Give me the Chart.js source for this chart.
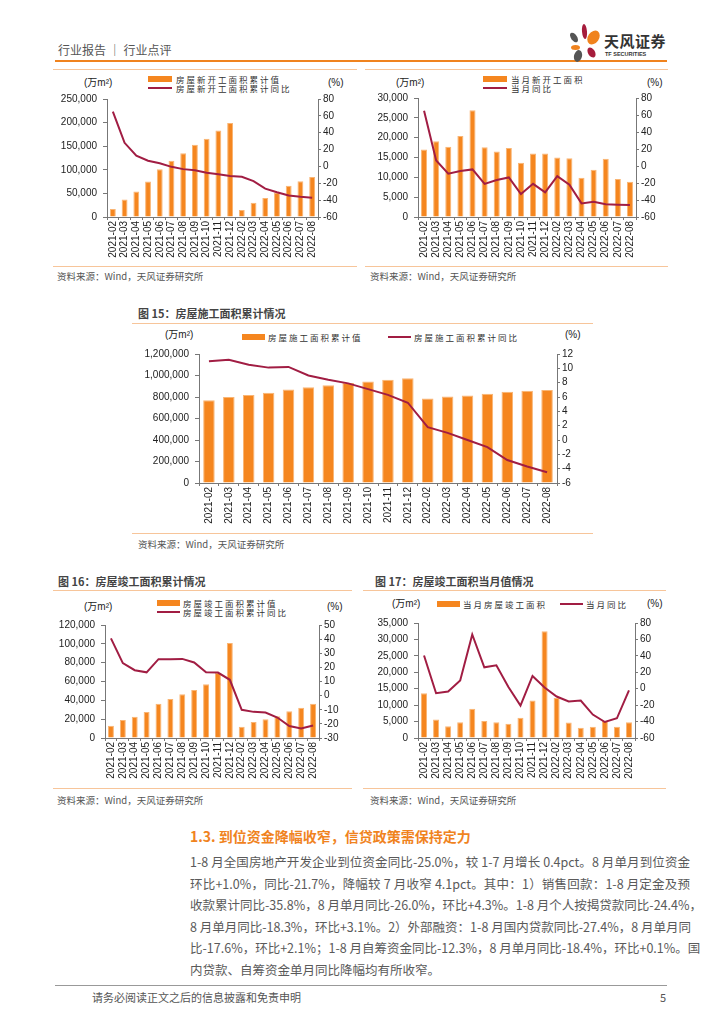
<!DOCTYPE html>
<html>
<head>
<meta charset="utf-8">
<script src="https://cdn.jsdelivr.net/npm/chart.js@4.4.0/dist/chart.umd.min.js"></script>
<style>
  body { margin: 0; background: #fff; width: 724px; height: 1024px; position: relative; overflow: hidden;
         font-family: "Noto Sans CJK SC", "Noto Sans", sans-serif; color: #333; }
  .a { position: absolute; white-space: nowrap; }
  .rule { position: absolute; height: 1px; background: #f7c59a; }
  .src { position: absolute; font-size: 9.5px; color: #555; line-height: 12px; }
  .ttl { position: absolute; font-size: 11px; font-weight: bold; color: #444; line-height: 14px; }
  .unit { position: absolute; font-size: 10px; color: #222; line-height: 12px; font-family: "Liberation Sans", "Noto Sans CJK SC"; }
  .lg { position: absolute; font-size: 8.5px; letter-spacing: 2px; color: #333; line-height: 10px; }
  .box { position: absolute; height: 6px; width: 24px; background: #f5861f; }
  .ln { position: absolute; height: 2px; width: 24px; background: #a11d43; }
  canvas { position: absolute; }
  .para { position: absolute; left: 190px; width: 500px; font-size: 12.5px; color: #5a5a5a; line-height: 21.5px; }
  .para div { text-align: justify; text-align-last: justify; white-space: nowrap; }
  .para div.last { text-align-last: left; }
</style>
</head>
<body>

<!-- header -->
<div class="a" style="left:58px;top:42px;font-size:12px;line-height:16px;color:#555;">行业报告 ｜ 行业点评</div>
<div class="a" style="left:55px;top:60px;width:612px;height:2px;background:#f0831e;"></div>
<div class="a" style="left:582px;top:24px;width:5px;height:15px;border-radius:50%;background:#a61c3c;transform:rotate(-5deg);"></div>
<div class="a" style="left:588px;top:30px;width:11px;height:15px;border-radius:50%;background:#f0831e;transform:rotate(35deg);"></div>
<div class="a" style="left:571px;top:32px;width:6px;height:11px;border-radius:50%;background:#555;transform:rotate(-35deg);"></div>
<div class="a" style="left:571px;top:45px;width:9px;height:5px;border-radius:50%;background:#f0831e;"></div>
<div class="a" style="left:574px;top:50px;width:8px;height:12px;border-radius:50%;background:#555;transform:rotate(15deg);"></div>
<div class="a" style="left:588px;top:47px;width:7px;height:11px;border-radius:50%;background:#a61c3c;transform:rotate(-30deg);"></div>
<div class="a" style="left:604px;top:32px;font-size:15px;font-weight:bold;line-height:18px;color:#333;letter-spacing:0.5px;">天风证券</div>
<div class="a" style="left:605px;top:51px;font-size:5.5px;line-height:7px;color:#333;font-family:'Liberation Sans';font-weight:bold;">TF SECURITIES</div>

<!-- chart 1 -->
<div class="rule" style="left:53px;top:69px;width:304px;"></div>
<div class="box" style="left:148px;top:76px;"></div><div class="lg" id="lg1a" style="left:176px;top:74px;"></div>
<div class="ln" style="left:148px;top:87px;"></div><div class="lg" id="lg1b" style="left:176px;top:83px;"></div>
<div class="unit" style="left:84px;top:77px;">(万m²)</div>
<div class="unit" style="left:328px;top:77px;">(%)</div>
<canvas id="c1" width="300" height="178" style="left:55px;top:87px;"></canvas>
<div class="rule" style="left:53px;top:266px;width:304px;"></div>
<div class="src" style="left:57px;top:270px;">资料来源：Wind，天风证券研究所</div>

<!-- chart 2 -->
<div class="rule" style="left:365px;top:69px;width:303px;"></div>
<div class="box" style="left:483px;top:76px;"></div><div class="lg" id="lg2a" style="left:511px;top:74px;"></div>
<div class="ln" style="left:483px;top:87px;"></div><div class="lg" id="lg2b" style="left:511px;top:83px;"></div>
<div class="unit" style="left:396px;top:77px;">(万m²)</div>
<div class="unit" style="left:647px;top:77px;">(%)</div>
<canvas id="c2" width="303" height="179" style="left:365px;top:86px;"></canvas>
<div class="rule" style="left:365px;top:266px;width:303px;"></div>
<div class="src" style="left:370px;top:270px;">资料来源：Wind，天风证券研究所</div>

<!-- chart 15 -->
<div class="ttl" style="left:138px;top:306px;">图 15：房屋施工面积累计情况</div>
<div class="rule" style="left:132px;top:323px;width:461px;"></div>
<div class="box" style="left:242px;top:334px;width:23px;"></div><div class="lg" id="lg3a" style="left:268px;top:332px;"></div>
<div class="ln" style="left:388px;top:336px;width:23px;"></div><div class="lg" id="lg3b" style="left:414px;top:332px;"></div>
<div class="unit" style="left:165px;top:329px;">(万m²)</div>
<div class="unit" style="left:565px;top:329px;">(%)</div>
<canvas id="c3" width="461" height="189" style="left:132px;top:342px;"></canvas>
<div class="rule" style="left:132px;top:533px;width:461px;"></div>
<div class="src" style="left:138px;top:538px;">资料来源：Wind，天风证券研究所</div>

<!-- chart 16 -->
<div class="ttl" style="left:58px;top:574px;">图 16：房屋竣工面积累计情况</div>
<div class="rule" style="left:53px;top:590px;width:299px;"></div>
<div class="box" style="left:157px;top:600px;width:23px;"></div><div class="lg" id="lg4a" style="left:183px;top:598px;"></div>
<div class="ln" style="left:157px;top:611px;width:23px;"></div><div class="lg" id="lg4b" style="left:183px;top:607px;"></div>
<div class="unit" style="left:84px;top:601px;">(万m²)</div>
<div class="unit" style="left:327px;top:601px;">(%)</div>
<canvas id="c4" width="299" height="173" style="left:53px;top:613px;"></canvas>
<div class="rule" style="left:53px;top:788px;width:299px;"></div>
<div class="src" style="left:57px;top:794px;">资料来源：Wind，天风证券研究所</div>

<!-- chart 17 -->
<div class="ttl" style="left:375px;top:574px;">图 17：房屋竣工面积当月值情况</div>
<div class="rule" style="left:363px;top:590px;width:303px;"></div>
<div class="box" style="left:437px;top:601px;width:23px;"></div><div class="lg" id="lg5a" style="left:463px;top:599px;"></div>
<div class="ln" style="left:560px;top:603px;width:23px;"></div><div class="lg" id="lg5b" style="left:586px;top:599px;"></div>
<div class="unit" style="left:392px;top:598px;">(万m²)</div>
<div class="unit" style="left:647px;top:598px;">(%)</div>
<canvas id="c5" width="305" height="175" style="left:363px;top:611px;"></canvas>
<div class="rule" style="left:363px;top:788px;width:303px;"></div>
<div class="src" style="left:370px;top:794px;">资料来源：Wind，天风证券研究所</div>

<!-- text -->
<div class="a" style="left:190px;top:827px;font-size:14px;font-weight:bold;color:#f0831e;line-height:18px;">1.3. 到位资金降幅收窄，信贷政策需保持定力</div>
<div class="para" style="top:851px;">
  <div>1-8 月全国房地产开发企业到位资金同比-25.0%，较 1-7 月增长 0.4pct。8 月单月到位资金</div>
  <div>环比+1.0%，同比-21.7%，降幅较 7 月收窄 4.1pct。其中：1）销售回款：1-8 月定金及预</div>
  <div>收款累计同比-35.8%，8 月单月同比-26.0%，环比+4.3%。1-8 月个人按揭贷款同比-24.4%，</div>
  <div>8 月单月同比-18.3%，环比+3.1%。2）外部融资：1-8 月国内贷款同比-27.4%，8 月单月同</div>
  <div>比-17.6%，环比+2.1%；1-8 月自筹资金同比-12.3%，8 月单月同比-18.4%，环比+0.1%。国</div>
  <div class="last">内贷款、自筹资金单月同比降幅均有所收窄。</div>
</div>

<!-- footer -->
<div class="a" style="left:55px;top:985px;width:612px;height:1px;background:#999;"></div>
<div class="a" style="left:92px;top:990px;font-size:11px;line-height:14px;color:#555;">请务必阅读正文之后的信息披露和免责申明</div>
<div class="a" style="left:660px;top:990px;font-size:11px;line-height:14px;color:#555;">5</div>

<script>
const months = ['2021-02', '2021-03', '2021-04', '2021-05', '2021-06', '2021-07', '2021-08', '2021-09', '2021-10',
  '2021-11', '2021-12', '2022-02', '2022-03', '2022-04', '2022-05', '2022-06', '2022-07', '2022-08'];

// 房屋新开工面积累计
const newStartCum = [17000, 37000, 54000, 75000, 101000, 119000, 135000, 153000, 166000, 183000, 199000,
  15000, 30000, 40000, 52000, 66000, 76000, 85000];
const newStartCumYoy = [64.9, 28.0, 12.8, 6.8, 3.8, -0.5, -3.2, -4.5, -7.5, -9.3, -11.4,
  -12.2, -17.5, -26.3, -30.6, -34.4, -36.1, -37.2];

// 当月新开工面积
const newStartMonth = [17000, 19100, 17700, 20400, 26900, 17600, 16500, 17400, 13700, 16000, 16000,
  15000, 14800, 9900, 11900, 14700, 9600, 8900];
const newStartMonthYoy = [65.0, 6.5, -9.0, -6.0, -4.0, -21.0, -16.5, -13.5, -33.0, -21.0, -31.0,
  -12.0, -22.0, -44.0, -42.0, -45.0, -45.5, -46.0];

// 房屋施工面积累计
const constructCum = [770000, 800000, 818000, 840000, 870000, 890000, 910000, 930000, 945000, 960000, 975000,
  785000, 805000, 815000, 830000, 848000, 857000, 865000];
const constructCumYoy = [11.0, 11.2, 10.5, 10.1, 10.2, 9.0, 8.4, 7.9, 7.1, 6.3, 5.2,
  1.8, 1.0, 0.0, -1.0, -2.8, -3.7, -4.5];

// 房屋竣工面积累计
const completeCum = [13000, 19000, 22500, 27500, 36500, 41500, 46500, 51000, 57000, 69000, 101000,
  12000, 17000, 20000, 23000, 28500, 32000, 36500];
const completeCumYoy = [40.5, 23.0, 18.0, 16.5, 25.8, 25.8, 26.0, 23.5, 16.5, 16.3, 11.2,
  -10.0, -11.5, -12.0, -15.5, -21.5, -23.3, -21.1];

// 当月房屋竣工面积
const completeMonth = [13600, 5600, 3600, 4800, 8900, 5200, 4800, 4300, 6200, 11400, 32500,
  12200, 4700, 3100, 3400, 5200, 3400, 4800];
const completeMonthYoy = [40.5, -5.5, -3.5, 10.0, 66.0, 26.0, 28.5, 2.0, -20.5, 15.5, 1.5,
  -9.5, -15.5, -14.5, -31.5, -40.5, -36.0, -2.0];

const orange = '#f5861f';
const crimson = '#a11d43';
const axisColor = '#777';
const tickFont = { family: 'Liberation Sans', size: 10 };

function makeChart(id, legendIds, barLabel, barData, lineLabel, lineData, left, right, leftW, rightW, barPct) {
  document.getElementById(legendIds[0]).textContent = barLabel;
  document.getElementById(legendIds[1]).textContent = lineLabel;
  return new Chart(document.getElementById(id), {
    type: 'bar',
    data: {
      labels: months,
      datasets: [{
        type: 'line',
        label: lineLabel,
        data: lineData,
        yAxisID: 'y1',
        borderColor: crimson,
        borderWidth: 2,
        pointRadius: 0,
        tension: 0,
        order: 0
      }, {
        type: 'bar',
        label: barLabel,
        data: barData,
        yAxisID: 'y',
        backgroundColor: orange,
        borderColor: '#f9b574',
        borderWidth: 1,
        barPercentage: barPct,
        categoryPercentage: 1,
        order: 1
      }]
    },
    options: {
      responsive: false,
      animation: false,
      layout: { padding: { top: 10, left: 0, right: 0, bottom: 0 } },
      plugins: { legend: { display: false }, tooltip: { enabled: false } },
      scales: {
        x: {
          grid: { drawOnChartArea: false, tickLength: 3, color: axisColor },
          border: { color: axisColor },
          ticks: { minRotation: 90, maxRotation: 90, autoSkip: false, padding: 1, font: tickFont, color: '#222' },
          afterFit(s) { s.height = 48; }
        },
        y: {
          position: 'left',
          min: left[0], max: left[1],
          grid: { drawOnChartArea: false, tickLength: 4, color: axisColor },
          border: { color: axisColor },
          ticks: { stepSize: left[2], autoSkip: false, padding: 6, font: tickFont, color: '#222',
            callback: v => v.toLocaleString('en-US') },
          afterFit(s) { s.width = leftW; }
        },
        y1: {
          position: 'right',
          min: right[0], max: right[1],
          grid: { drawOnChartArea: false, tickLength: 3, color: axisColor },
          border: { color: axisColor },
          ticks: { stepSize: right[2], autoSkip: false, padding: 2, font: tickFont, color: '#222' },
          afterFit(s) { s.width = rightW; }
        }
      }
    }
  });
}

makeChart('c1', ['lg1a', 'lg1b'], '房屋新开工面积累计值', newStartCum, '房屋新开工面积累计同比', newStartCumYoy,
  [0, 250000, 50000], [-60, 80, 20], 52, 37, 0.5);
makeChart('c2', ['lg2a', 'lg2b'], '当月新开工面积', newStartMonth, '当月同比', newStartMonthYoy,
  [0, 30000, 5000], [-60, 80, 20], 53, 32, 0.5);
makeChart('c3', ['lg3a', 'lg3b'], '房屋施工面积累计值', constructCum, '房屋施工面积累计同比', constructCumYoy,
  [0, 1200000, 200000], [-6, 12, 2], 67, 36, 0.58);
makeChart('c4', ['lg4a', 'lg4b'], '房屋竣工面积累计值', completeCum, '房屋竣工面积累计同比', completeCumYoy,
  [0, 120000, 20000], [-30, 50, 10], 52, 33, 0.5);
makeChart('c5', ['lg5a', 'lg5b'], '当月房屋竣工面积', completeMonth, '当月同比', completeMonthYoy,
  [0, 35000, 5000], [-60, 80, 20], 55, 33, 0.5);
</script>
</body>
</html>
